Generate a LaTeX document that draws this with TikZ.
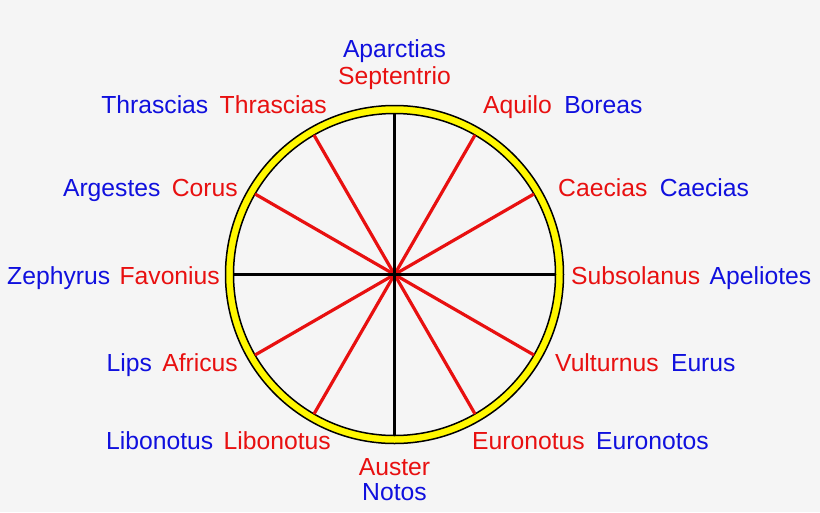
\documentclass[tikz,border=0pt]{standalone}
\usepackage{fontspec}
\setmainfont{Liberation Sans}
\usetikzlibrary{positioning}
\definecolor{windred}{RGB}{232,16,16}
\definecolor{windblue}{RGB}{16,16,222}
\definecolor{ringyellow}{RGB}{255,247,0}
\definecolor{bggray}{RGB}{245,245,245}
\tikzset{
  latname/.style={text=windred, font=\fontsize{24.7}{28}\selectfont, inner sep=0pt, text height=18pt, text depth=5.5pt},
  grname/.style={text=windblue, font=\fontsize{24.7}{28}\selectfont, inner sep=0pt, text height=18pt, text depth=5.5pt},
  spoke/.style={windred, line width=3.2pt},
  axis/.style={black, line width=3pt}
}

\begin{document}
\begin{tikzpicture}[x=1pt, y=-1pt]
      \fill [bggray] (0, 0) rectangle (820, 512);
      \useasboundingbox (0, 0) rectangle (820, 512);

      \coordinate (c) at (394.5, 274.5);
      \fill [ringyellow, even odd rule] (c) circle [radius=169] (c) circle [radius=161];
      \draw [black, line width=1.5pt] (c) circle [radius=169];
      \draw [black, line width=1.5pt] (c) circle [radius=161];

      \foreach \a in {30, 60, 120, 150, 210, 240, 300, 330}
        \draw [spoke] (c) -- ++(\a:161);
      \foreach \a in {0, 90, 180, 270}
        \draw [axis] (c) -- ++(\a:161);

      \node [latname, anchor=base] (sept) at (394.5, 84) {Septentrio};
      \node [grname, above=2.5pt of sept] (aparc) {Aparctias};

      \node [latname, anchor=base east] (thrR) at (327, 113) {Thrascias};
      \node [grname, left=11pt of thrR] (thrB) {Thrascias};

      \node [latname, anchor=base west] (aquilo) at (483, 113) {Aquilo};
      \node [grname, right=12pt of aquilo] (boreas) {Boreas};

      \node [latname, anchor=base east] (corus) at (238, 196) {Corus};
      \node [grname, left=11pt of corus] (argestes) {Argestes};

      \node [latname, anchor=base west] (caeR) at (558, 196) {Caecias};
      \node [grname, right=12pt of caeR] (caeB) {Caecias};

      \node [latname, anchor=base east] (favon) at (220, 284) {Favonius};
      \node [grname, left=9pt of favon] (zeph) {Zephyrus};

      \node [latname, anchor=base west] (subsol) at (571, 284) {Subsolanus};
      \node [grname, right=9pt of subsol] (apel) {Apeliotes};

      \node [latname, anchor=base east] (afric) at (238, 371) {Africus};
      \node [grname, left=10pt of afric] (lips) {Lips};

      \node [latname, anchor=base west] (vult) at (555, 371) {Vulturnus};
      \node [grname, right=12pt of vult] (eurus) {Eurus};

      \node [latname, anchor=base east] (libR) at (331, 449) {Libonotus};
      \node [grname, left=10pt of libR] (libB) {Libonotus};

      \node [latname, anchor=base west] (euroR) at (472, 449) {Euronotus};
      \node [grname, right=11pt of euroR] (euroB) {Euronotos};

      \node [latname, anchor=base] (auster) at (394.5, 475) {Auster};
      \node [grname, below=1.5pt of auster] (notos) {Notos};
    \end{tikzpicture}
\end{document}
